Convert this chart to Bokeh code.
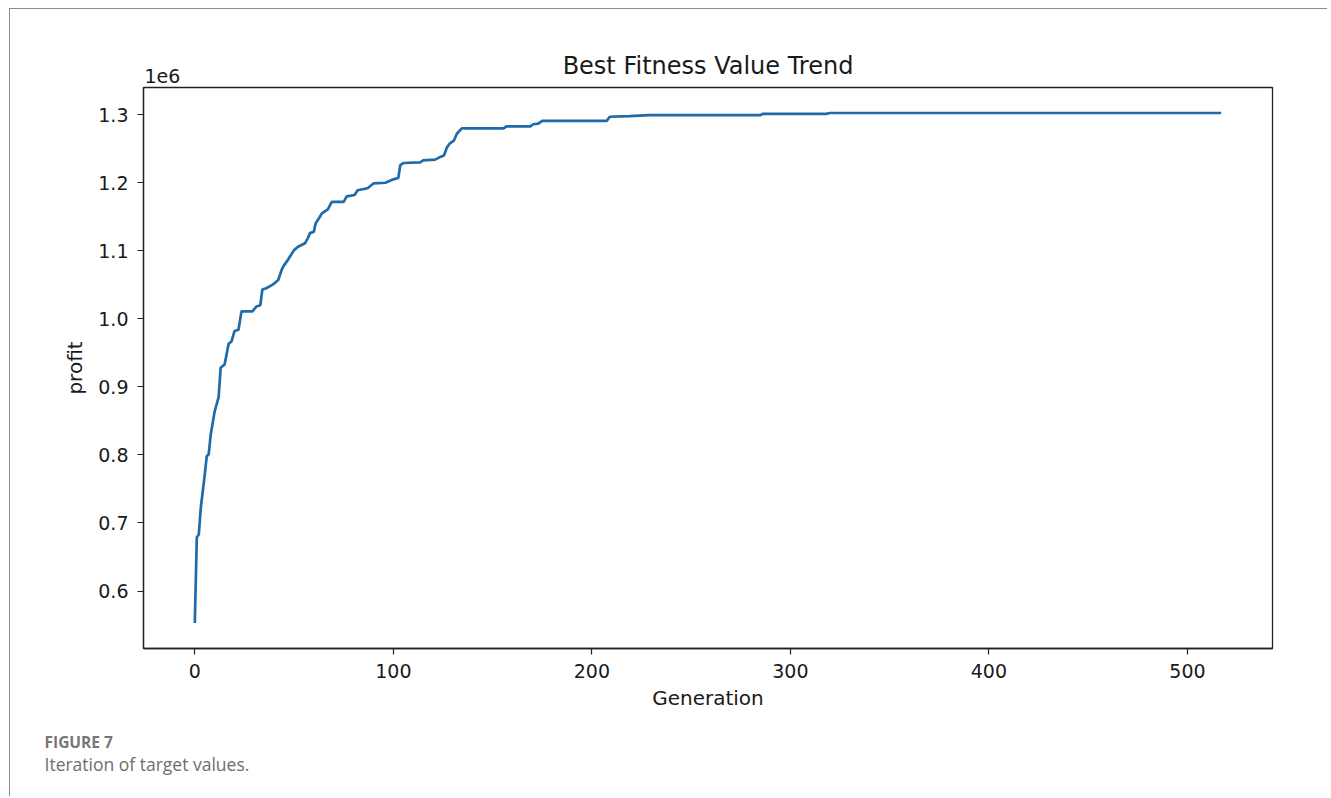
from bokeh.plotting import figure
from bokeh.models import Range1d, CustomJSTickFormatter, FixedTicker, Title
from bokeh.embed import file_html
from bokeh.resources import INLINE

# ---- data ----
generation = [0, 1, 2, 3, 5, 6, 7, 8, 10, 12, 13, 15, 17, 18.5, 20, 22, 23.5, 29, 31, 33,
              34, 36, 39, 40, 42, 44, 45, 47, 48, 50, 52, 54, 55.5, 57, 58, 60, 60.5, 61,
              63, 64, 65.5, 67, 69, 75, 76.5, 80.5, 82, 87, 90, 96, 100, 102.5, 103.5, 105,
              113.5, 115, 121, 123, 125.5, 127, 128.5, 130.5, 132, 134.5, 155.5, 157, 169,
              170.5, 173, 175, 207.5, 209, 219, 229, 285, 286, 318, 320, 517]
profit = [553000, 679000, 683000, 722000, 771000, 798000, 801000, 830000, 864000, 885000,
          928000, 933000, 963000, 967000, 982000, 984000, 1011000, 1011000, 1018000, 1020000,
          1043000, 1045000, 1050000, 1052000, 1057000, 1074000, 1079000, 1087000, 1092000,
          1101000, 1106000, 1109000, 1111000, 1119000, 1126000, 1128000, 1136000, 1141000,
          1150000, 1155000, 1158000, 1161000, 1172000, 1172000, 1180000, 1182000, 1189000,
          1192000, 1199000, 1200000, 1205000, 1207000, 1226000, 1229000, 1230000, 1233000,
          1234000, 1237000, 1240000, 1252000, 1258000, 1262000, 1272000, 1280000, 1280000,
          1283000, 1283000, 1286000, 1287000, 1291000, 1291000, 1297000, 1298000, 1299500,
          1299500, 1301200, 1301200, 1302500, 1302500]
x_ticks = [0, 100, 200, 300, 400, 500]
y_ticks = [600000, 700000, 800000, 900000, 1000000, 1100000, 1200000, 1300000]

title_text = "Best Fitness Value Trend"
x_label = "Generation"
y_label = "profit"
offset_text = "1e6"
fig_no = "FIGURE 7"
caption = "Iteration of target values."

# canvas origin on the page (border line drawn 1px before it)
OX, OY = 10, 9
W, H = 1318, 788
FL, FR, FT, FB = 143, 1272, 87, 648  # frame edges in page px
p = figure(width=W, height=H, output_backend="svg", toolbar_location=None,
           x_range=Range1d(-25.85, 542.85), y_range=Range1d(515500, 1340000),
           min_border_left=FL - OX, min_border_right=W + OX - FR,
           min_border_top=FT - OY, min_border_bottom=H + OY - FB)
p.title = None
p.styles = {"border-top": "1px solid #8c8c8c", "border-left": "1px solid #8c8c8c",
            "margin-top": "8px", "margin-left": "9px"}

p.grid.visible = False
p.outline_line_color = "#222222"
p.outline_line_width = 1.3
p.background_fill_color = "white"
p.border_fill_color = "white"

for ax in (p.xaxis[0], p.yaxis[0]):
    ax.axis_line_color = "#222222"
    ax.axis_line_width = 1.3
    ax.major_tick_out = 6
    ax.major_tick_in = 0
    ax.major_tick_line_color = "#222222"
    ax.major_tick_line_width = 1.2
    ax.minor_tick_line_color = None
    ax.major_label_text_font = "DejaVu Sans"
    ax.major_label_text_font_size = "19px"
    ax.major_label_text_color = "#1a1a1a"
    ax.axis_label_text_font = "DejaVu Sans"
    ax.axis_label_text_font_size = "20px"
    ax.axis_label_text_font_style = "normal"
    ax.axis_label_text_color = "#1a1a1a"

p.xaxis.ticker = FixedTicker(ticks=x_ticks)
p.yaxis.ticker = FixedTicker(ticks=y_ticks)
p.yaxis.formatter = CustomJSTickFormatter(code="return (tick/1e6).toFixed(1);")
p.xaxis.axis_label = x_label
p.yaxis.axis_label = y_label
p.xaxis.major_label_standoff = 9
p.yaxis.major_label_standoff = 9
p.xaxis.axis_label_standoff = 5
p.yaxis.axis_label_standoff = 8

p.line(generation, profit, line_color="#1f6aa8", line_width=2.7)

# above: offset text nearest the frame, then the main title
t_off = Title(text=offset_text, align="left", offset=1, text_font="DejaVu Sans",
              text_font_size="19px", text_font_style="normal", text_color="#1a1a1a",
              standoff=10)
t_main = Title(text=title_text, align="center", text_font="DejaVu Sans",
               text_font_size="24px", text_font_style="normal", text_color="#1a1a1a",
               standoff=-37)
p.add_layout(t_off, "above")
p.add_layout(t_main, "above")

# below: small blank spacer, then the caption
spacer = Title(text=" ", align="left", text_font_size="1px", standoff=8)
t1 = Title(text=fig_no, align="left", offset=44 - FL, text_font="Open Sans",
           text_font_size="15.5px", text_font_style="bold", text_color="#767676", standoff=10)
t2 = Title(text=caption, align="left", offset=44 - FL, text_font="Open Sans",
           text_font_size="17.5px", text_font_style="normal", text_color="#6e6e6e", standoff=-36)
p.add_layout(spacer, "below")
p.add_layout(t1, "below")
p.add_layout(t2, "below")

open("out.html", "w").write(file_html(p, INLINE))
